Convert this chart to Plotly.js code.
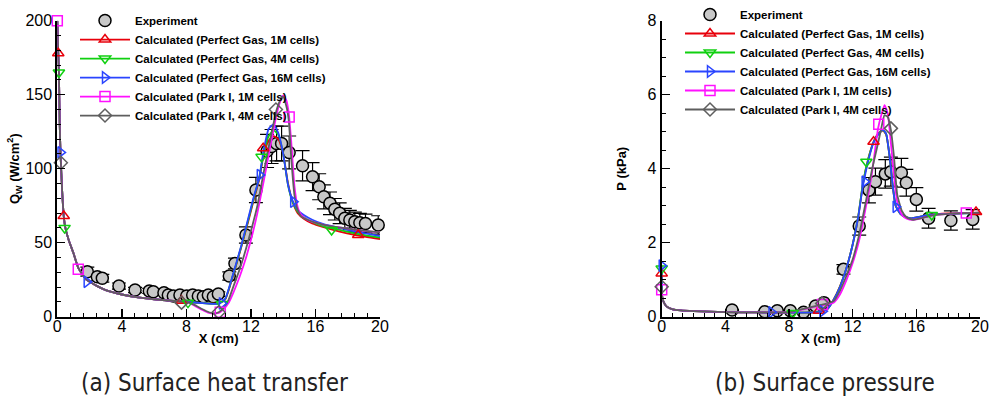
<!DOCTYPE html>
<html>
<head>
<meta charset="utf-8">
<script src="https://cdn.plot.ly/plotly-3.0.1.min.js"></script>
<style>html,body{margin:0;padding:0;background:#fff;}#chart{width:991px;height:403px;}</style>
</head>
<body>
<div id="chart"></div>
<script>
// ---------- (a) Surface heat transfer ----------
const qExpX = [1.86, 2.48, 2.79, 3.82, 4.82, 5.7, 5.95, 6.61, 6.88, 7.19, 7.6, 8.02, 8.39, 8.74, 9.05, 9.36, 9.67, 9.98, 10.66, 11.01, 11.69, 12.31, 13.0, 13.28, 13.59, 13.9, 14.37, 15.2, 15.82, 16.23, 16.52, 16.9, 17.2, 17.5, 17.82, 18.13, 18.44, 18.75, 19.1, 19.89];
const qExpY = [30.4, 27, 26, 20.7, 18, 17.4, 16.9, 16.2, 14.7, 14, 14.7, 14, 14.7, 14, 13.5, 14.7, 13.5, 15.3, 27.5, 36, 55.2, 85.6, 112, 115, 117, 117, 111, 102, 94.6, 87.8, 81, 76.6, 72.6, 69.9, 66.5, 65.3, 64.2, 63.5, 63, 62];

const qPgX   = [0, 0.03, 0.06, 0.1, 0.15, 0.2, 0.3, 0.4, 0.5, 0.7, 1.0, 1.3, 1.8, 2.5, 3.0, 4.0, 5.0, 6.0, 7.0, 8.0, 9.0, 10.0, 10.4, 10.9, 11.4, 11.8, 12.2, 12.5, 12.8, 13.1, 13.4, 13.7, 14.0, 14.3, 14.6, 14.9, 15.3, 15.8, 16.5, 17.5, 18.5, 20.0];
const qPg1M  = [200, 190, 178, 165, 130, 110, 85, 68, 60, 52, 43, 33, 25, 20.5, 18, 15, 13, 11.8, 10.8, 10, 9.3, 9, 11.5, 28, 47, 63, 80, 92, 110, 119, 122, 120, 110, 90, 77, 70, 66, 63, 60.5, 57.5, 55.2, 52.5];
const qPg4M  = [200, 190, 178, 165, 130, 110, 85, 68, 60, 52, 43, 33, 25, 20.5, 18, 15, 13, 11.8, 10.8, 10, 9.2, 8.8, 11.8, 28.5, 47.5, 64, 81, 93, 111, 122, 126, 123, 110, 89, 77, 71, 67, 64, 61, 58.6, 56.2, 53.5];
const qPg16M = [200, 190, 178, 165, 130, 110, 85, 68, 60, 52, 43, 33, 25, 20.5, 18, 15, 13, 11.8, 10.8, 10, 9.2, 8.7, 12, 29, 48, 65, 82, 93, 113, 127, 130, 124, 110, 89, 78, 72, 68.5, 65.5, 62.5, 60, 57.5, 54.5];

const qPkX   = [0, 0.03, 0.06, 0.1, 0.15, 0.2, 0.3, 0.4, 0.5, 0.7, 1.0, 1.3, 1.8, 2.5, 3.0, 4.0, 5.0, 6.0, 7.0, 8.0, 8.5, 9.0, 9.4, 9.7, 10.0, 10.3, 10.6, 10.9, 11.3, 11.7, 12.1, 12.4, 12.8, 13.2, 13.6, 13.8, 14.0, 14.2, 14.35, 14.5, 14.7, 14.9, 15.1, 15.5, 16.0, 17.0, 18.0, 19.0, 20.0];
const qPk1M  = [200, 190, 178, 165, 130, 110, 85, 68, 60, 52, 43, 33, 25, 20.5, 18, 15, 13, 11.8, 10.8, 10, 7.5, 4.5, 2.5, 2, 2.5, 5, 9, 16, 27, 40, 56, 70, 92, 115, 137, 145, 149.5, 146, 137, 118, 88, 74, 69, 65.5, 63.5, 61, 59.5, 58, 57];
const qPk4M  = [200, 190, 178, 165, 130, 110, 85, 68, 60, 52, 43, 33, 25, 20.5, 18, 15, 13, 11.8, 10.8, 10, 8, 5, 3, 2.3, 3, 6, 11, 20, 32, 46, 62, 75, 98, 120, 140, 146, 148.5, 142, 132, 107, 82, 72, 68, 65.5, 63.5, 61, 59.5, 58.2, 57];

const qMk1MX = [0.06, 0.4, 7.7, 12.76, 18.65],        qMk1MY = [178, 68, 10.8, 113.8, 55.2];
const qMk4MX = [0.1, 0.45, 8.1, 10.2, 12.66, 17.0],   qMk4MY = [165, 60, 9.5, 8.5, 108, 58.6];
const qMk16X = [0.2, 1.82, 10.2, 12.55, 14.62],       qMk16Y = [111, 23.6, 9, 95.7, 77.7];
const qMkP1X = [0.0, 1.3, 10.1, 14.37],               qMkP1Y = [200, 32, 3, 135];
const qMkP4X = [0.22, 7.7, 10.0, 13.55],              qMkP4Y = [104, 9.5, 3, 140];

// ---------- (b) Surface pressure ----------
const pExpX = [4.42, 6.48, 7.26, 8.08, 8.91, 9.67, 10.19, 11.42, 12.41, 13.02, 13.43, 14.05, 14.4, 15.06, 15.37, 16.0, 16.77, 18.17, 19.54];
const pExpY = [0.18, 0.135, 0.16, 0.16, 0.12, 0.29, 0.38, 1.28, 2.45, 3.42, 3.65, 3.86, 3.92, 3.89, 3.62, 3.17, 2.66, 2.6, 2.63];

const pPgX   = [0, 0.03, 0.1, 0.3, 0.7, 1.2, 2, 3, 4, 6, 8, 9, 10, 10.4, 10.8, 11.2, 11.6, 12.0, 12.35, 12.65, 13.0, 13.3, 13.6, 13.9, 14.1, 14.3, 14.5, 14.7, 15.0, 15.3, 15.7, 16.2, 16.8, 18, 19, 20];
const pPg1M  = [1.17, 0.55, 0.42, 0.28, 0.2, 0.17, 0.15, 0.135, 0.125, 0.115, 0.11, 0.11, 0.14, 0.21, 0.46, 0.82, 1.3, 1.95, 2.7, 3.6, 4.3, 4.72, 4.95, 5.03, 4.93, 4.4, 3.6, 3.0, 2.78, 2.7, 2.66, 2.7, 2.75, 2.79, 2.8, 2.81];
const pPg4M  = [1.3, 0.55, 0.42, 0.28, 0.2, 0.17, 0.15, 0.135, 0.125, 0.115, 0.11, 0.11, 0.135, 0.2, 0.45, 0.81, 1.3, 1.95, 2.72, 3.62, 4.3, 4.7, 4.93, 5.04, 4.94, 4.4, 3.6, 3.0, 2.78, 2.7, 2.66, 2.7, 2.75, 2.78, 2.79, 2.8];
const pPg16M = [1.38, 0.55, 0.42, 0.28, 0.2, 0.17, 0.15, 0.135, 0.125, 0.115, 0.11, 0.11, 0.13, 0.2, 0.45, 0.8, 1.3, 1.95, 2.7, 3.55, 4.25, 4.7, 4.92, 5.05, 4.95, 4.4, 3.6, 3.0, 2.78, 2.7, 2.66, 2.7, 2.75, 2.78, 2.79, 2.8];

const pPkX   = [0, 0.03, 0.1, 0.3, 0.7, 1.2, 2, 3, 4, 6, 8, 8.5, 9, 9.5, 10, 10.4, 10.8, 11.2, 11.6, 12.0, 12.4, 12.8, 13.2, 13.6, 13.8, 14.0, 14.2, 14.4, 14.6, 14.8, 15.1, 15.4, 15.8, 16.3, 17, 18, 19, 20];
const pPk1M  = [0.73, 0.55, 0.42, 0.28, 0.2, 0.17, 0.15, 0.135, 0.125, 0.115, 0.12, 0.16, 0.21, 0.26, 0.3, 0.33, 0.38, 0.6, 0.98, 1.45, 2.05, 2.9, 3.85, 5.1, 5.45, 5.72, 5.5, 4.7, 3.8, 3.1, 2.75, 2.65, 2.62, 2.66, 2.74, 2.78, 2.8, 2.81];
const pPk4M  = [0.81, 0.55, 0.42, 0.28, 0.2, 0.17, 0.15, 0.135, 0.125, 0.115, 0.12, 0.17, 0.22, 0.27, 0.32, 0.36, 0.42, 0.7, 1.1, 1.55, 2.2, 3.05, 3.95, 4.7, 5.1, 5.45, 5.4, 5.05, 4.3, 3.3, 2.85, 2.68, 2.62, 2.66, 2.74, 2.78, 2.8, 2.81];

const pMk1MX = [0, 9.88, 13.31, 19.75],          pMk1MY = [1.17, 0.16, 4.73, 2.83];
const pMk4MX = [0, 8.23, 12.86, 16.97],          pMk4MY = [1.3, 0.1, 4.19, 2.75];
const pMk16X = [0, 6.9, 10.1, 12.75, 14.7],      pMk16Y = [1.38, 0.12, 0.15, 3.65, 2.97];
const pMkP1X = [0, 10.1, 13.64, 19.14],          pMkP1Y = [0.73, 0.33, 5.2, 2.8];
const pMkP4X = [0, 10.08, 14.4],                 pMkP4Y = [0.81, 0.36, 5.09];

const seriesNames = ['Calculated (Perfect Gas, 1M cells)', 'Calculated (Perfect Gas, 4M cells)', 'Calculated (Perfect Gas, 16M cells)', 'Calculated (Park I, 1M cells)', 'Calculated (Park I, 4M cells)'];
const colors  = ['#e8000b', '#10d010', '#2a45ff', '#ff10ff', '#5e5e5e'];
const symbols = ['triangle-up-open', 'triangle-down-open', 'triangle-right-open', 'square-open', 'diamond-open'];

function withGaps(arr) { const out = []; arr.forEach((v, i) => { if (i) out.push(null); out.push(v); }); return out; }

function buildPanel(xa, ya, leg, expX, expY, curves, marks) {
  const tr = [];
  tr.push({
    x: expX, y: expY, xaxis: xa, yaxis: ya, legend: leg, name: 'Experiment', type: 'scatter', mode: 'markers',
    cliponaxis: false,
    marker: { symbol: 'circle', size: 12, color: '#c8c8c8', line: { color: '#000', width: 1.5 } },
    error_y: { type: 'percent', value: 10, color: '#000', thickness: 1.2, width: 7 }
  });
  curves.forEach((c, i) => {
    tr.push({
      x: c[0], y: c[1], xaxis: xa, yaxis: ya, legend: leg, type: 'scatter', mode: 'lines', showlegend: false,
      line: { color: colors[i], width: 1.8, shape: 'spline', smoothing: 0.5 }, hoverinfo: 'skip'
    });
  });
  marks.forEach((m, i) => {
    tr.push({
      x: withGaps(m[0]), y: withGaps(m[1]), xaxis: xa, yaxis: ya, legend: leg, type: 'scatter', mode: 'lines+markers',
      name: seriesNames[i], connectgaps: false, cliponaxis: false,
      line: { color: colors[i], width: 1.8 },
      marker: { symbol: symbols[i], size: 10, color: colors[i], line: { color: colors[i], width: 1.5 } }
    });
  });
  return tr;
}

const data = [].concat(
  buildPanel('x', 'y', 'legend', qExpX, qExpY,
    [[qPgX, qPg1M], [qPgX, qPg4M], [qPgX, qPg16M], [qPkX, qPk1M], [qPkX, qPk4M]],
    [[qMk1MX, qMk1MY], [qMk4MX, qMk4MY], [qMk16X, qMk16Y], [qMkP1X, qMkP1Y], [qMkP4X, qMkP4Y]]),
  buildPanel('x2', 'y2', 'legend2', pExpX, pExpY,
    [[pPgX, pPg1M], [pPgX, pPg4M], [pPgX, pPg16M], [pPkX, pPk1M], [pPkX, pPk4M]],
    [[pMk1MX, pMk1MY], [pMk4MX, pMk4MY], [pMk16X, pMk16Y], [pMkP1X, pMkP1Y], [pMkP4X, pMkP4Y]])
);

const tickFont = { family: 'Liberation Sans, Arial, sans-serif', size: 16, color: '#000' };
const titleFont = { family: 'Liberation Sans, Arial, sans-serif', size: 13, color: '#000', weight: 'bold' };
function axis(domain, range, dtick, minorDtick, title, anchor, standoff, labelShift) {
  return {
    domain: domain, range: range, dtick: dtick, tick0: 0, anchor: anchor,
    ticks: 'inside', ticklen: 8, tickwidth: 1.5, tickcolor: '#000',
    minor: { ticks: 'inside', dtick: minorDtick, tick0: 0, ticklen: 4, tickwidth: 1, tickcolor: '#000', showgrid: false },
    showline: true, linecolor: '#000', linewidth: 2, showgrid: false, zeroline: false,
    tickfont: tickFont, automargin: false, ticklabeloverflow: 'allow', ticklabelstandoff: labelShift,
    title: { text: title, font: titleFont, standoff: standoff }
  };
}

const W = 991, H = 403;
const legendFont = { family: 'Liberation Sans, Arial, sans-serif', size: 11.5, color: '#000', weight: 'bold' };
const layout = {
  width: W, height: H, margin: { l: 0, r: 0, t: 0, b: 0 },
  paper_bgcolor: '#fff', plot_bgcolor: 'rgba(0,0,0,0)',
  font: { family: 'Liberation Sans, Arial, sans-serif', color: '#000' },
  xaxis:  axis([57.3 / W, 380 / W], [0, 20], 4, 0.8, '<b>X (cm)</b>', 'y', 0, -6),
  yaxis:  axis([(H - 316.7) / H, (H - 20.7) / H], [0, 200], 50, 10, '<b>Q<sub>W</sub> (W/cm<sup>2</sup>)</b>', 'x', 3, 0),
  xaxis2: axis([661.7 / W, 980 / W], [0, 20], 4, 4 / 6, '<b>X (cm)</b>', 'y2', 0, -6),
  yaxis2: axis([(H - 316.7) / H, (H - 20.7) / H], [0, 8], 2, 0.5, '<b>P (kPa)</b>', 'x2', 18, 0),
  legend: {
    x: 75 / W, y: 0.985, xanchor: 'left', yanchor: 'top', bgcolor: 'rgba(0,0,0,0)', borderwidth: 0,
    tracegroupgap: 0, itemwidth: 50, font: legendFont
  },
  legend2: {
    x: 680 / W, y: 1.0, xanchor: 'left', yanchor: 'top', bgcolor: 'rgba(0,0,0,0)', borderwidth: 0,
    tracegroupgap: 0, itemwidth: 50, font: legendFont
  },
  annotations: [
    { text: '(a) Surface heat transfer', xref: 'paper', yref: 'paper', x: 214 / W, y: (H - 383) / H, xanchor: 'center', yanchor: 'middle', showarrow: false,
      font: { family: 'Liberation Sans Narrow, DejaVu Sans Condensed, sans-serif', size: 24, color: '#222' } },
    { text: '(b) Surface pressure', xref: 'paper', yref: 'paper', x: 825 / W, y: (H - 383) / H, xanchor: 'center', yanchor: 'middle', showarrow: false,
      font: { family: 'Liberation Sans Narrow, DejaVu Sans Condensed, sans-serif', size: 24, color: '#222' } }
  ],
  showlegend: true
};

Plotly.newPlot('chart', data, layout, { displayModeBar: false, staticPlot: true });
</script>
</body>
</html>
